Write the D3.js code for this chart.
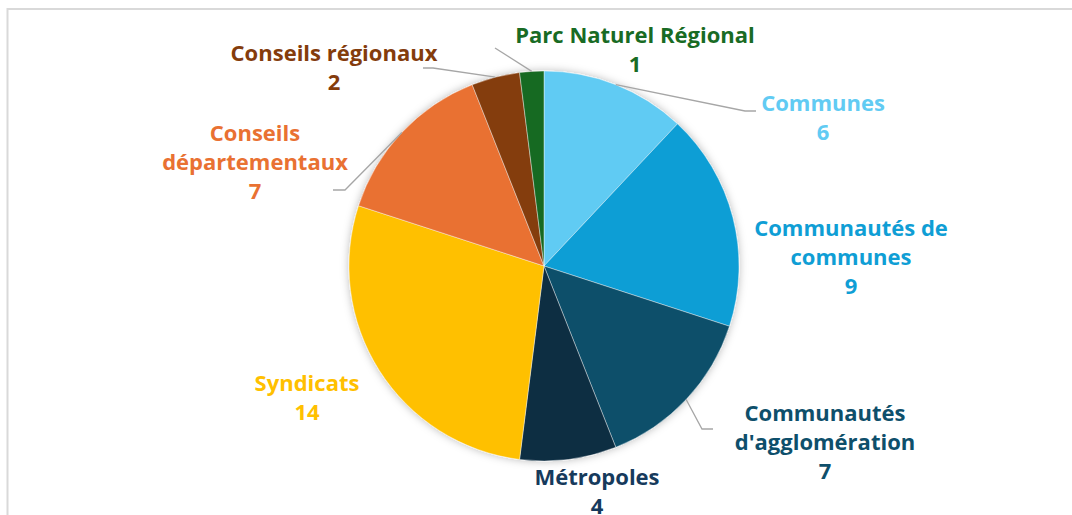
<!DOCTYPE html>
<html>
<head>
<meta charset="utf-8">
<script src="https://cdn.jsdelivr.net/npm/d3@7"></script>
<style>
  body { margin: 0; background: #fff; }
  svg { display: block; }
  text { font-family: "Open Sans", sans-serif; font-weight: 700; }
</style>
</head>
<body>
<svg id="chart"></svg>
<script>
var width = 1072, height = 515;

// data
var categories = ["Communes", "Communautés de communes", "Communautés d'agglomération",
  "Métropoles", "Syndicats", "Conseils départementaux", "Conseils régionaux", "Parc Naturel Régional"];
var values = [6, 9, 7, 4, 14, 7, 2, 1];
var sliceColors = ["#61cbf3", "#0f9ed5", "#0b4f6a", "#0c2d42", "#ffc000", "#e97132", "#843c0c", "#196b24"];
var labelColors = ["#61cbf3", "#0f9ed5", "#0e4f6b", "#163a5c", "#ffc000", "#e97132", "#843c0c", "#196b24"];
// label lines (text split the way the chart wraps it)
var labelLines = [["Communes"], ["Communautés de", "communes"], ["Communautés", "d'agglomération"],
  ["Métropoles"], ["Syndicats"], ["Conseils", "départementaux"], ["Conseils régionaux"], ["Parc Naturel Régional"]];

// layout: label anchor (centre x, first line y) and leader elbow [bend x, bend y, end x] or null
var labelPos = [[823, 111], [851, 236], [825, 421], [597, 485], [307, 391], [255, 141], [334, 61], [635, 43]];
var leaders = [[745, 111, 756], null, [702, 429, 713], null, null, [345, 190, 333], [433, 68, 423], [495, 48, 495]];

var cx = 544, cy = 266, r = 195;
var lineH = 29;

var svg = d3.select("#chart").attr("width", width).attr("height", height);

var defs = svg.append("defs");
var f = defs.append("filter").attr("id", "shadow")
    .attr("x", "-20%").attr("y", "-20%").attr("width", "140%").attr("height", "140%");
f.append("feDropShadow").attr("dx", 0).attr("dy", 0)
    .attr("stdDeviation", 4).attr("flood-color", "#000").attr("flood-opacity", 0.28);

// chart frame
svg.append("rect")
    .attr("x", 7.5).attr("y", 9).attr("width", 1100).attr("height", 600)
    .style("fill", "none").style("stroke", "#d9d9d9").style("stroke-width", 2);

var pie = d3.pie().sort(null).value(function(d){ return d; });
var arcs = pie(values);
var arc = d3.arc().innerRadius(0).outerRadius(r);

var g = svg.append("g").attr("transform", "translate(" + cx + "," + cy + ")");

g.append("g").attr("filter", "url(#shadow)")
  .selectAll("path").data(arcs)
  .enter().append("path")
    .attr("d", arc)
    .style("fill", function(d, i){ return sliceColors[i]; })
    .style("stroke", "#fff")
    .style("stroke-width", 0.4);

// leader lines from the middle of each slice's edge
arcs.forEach(function(d, i){
  var lead = leaders[i];
  if (!lead) return;
  var a = (d.startAngle + d.endAngle) / 2;
  var x0 = cx + r * Math.sin(a), y0 = cy - r * Math.cos(a);
  svg.append("polyline")
      .attr("points", [[x0, y0], [lead[0], lead[1]], [lead[2], lead[1]]].map(function(p){ return p.join(","); }).join(" "))
      .style("fill", "none")
      .style("stroke", "#a6a6a6")
      .style("stroke-width", 1.3);
});

// labels
categories.forEach(function(c, i){
  var lines = labelLines[i].concat([String(values[i])]);
  var t = svg.append("text")
      .attr("text-anchor", "middle")
      .style("font-size", "22px")
      .style("fill", labelColors[i]);
  lines.forEach(function(s, k){
    t.append("tspan")
        .attr("x", labelPos[i][0])
        .attr("y", labelPos[i][1] + k * lineH)
        .text(s);
  });
});
</script>
</body>
</html>
